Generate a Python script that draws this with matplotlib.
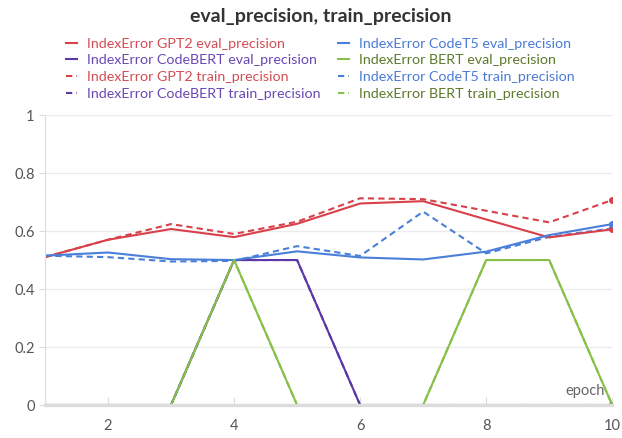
import matplotlib.pyplot as plt

# datos
epocas = [1, 2, 3, 4, 5, 6, 7, 8, 9, 10]

gpt2_eval = [0.51, 0.57, 0.607, 0.579, 0.625, 0.695, 0.703, 0.64, 0.578, 0.606]
codet5_eval = [0.515, 0.526, 0.503, 0.50, 0.53, 0.509, 0.502, 0.529, 0.586, 0.624]
codebert_eval = [0, 0, 0, 0.5, 0.5, 0, 0, 0, 0, 0]
bert_eval = [0, 0, 0, 0.5, 0, 0, 0, 0.5, 0.5, 0]

gpt2_train = [0.51, 0.57, 0.624, 0.59, 0.632, 0.713, 0.71, 0.67, 0.63, 0.707]
codet5_train = [0.515, 0.51, 0.495, 0.497, 0.548, 0.514, 0.667, 0.523, 0.58, 0.609]
codebert_train = [0, 0, 0, 0.5, 0.5, 0, 0, 0, 0, 0]
bert_train = [0, 0, 0, 0.5, 0, 0, 0, 0.5, 0.5, 0]

rojo, azul, morado, verde = '#d8404a', '#4a7fd9', '#5b37a8', '#88bf48'
texto_col = {rojo: '#d24c53', azul: '#4a7ad6', morado: '#6a48b3', verde: '#5c7a2c'}

plt.rcParams['font.family'] = ['Lato', 'DejaVu Sans']

fig = plt.figure(figsize=(6.22, 4.38), dpi=100)
ax = fig.add_axes([0.0723, 0.0753, 0.912, 0.662])

series = [
    ('IndexError GPT2 eval_precision', gpt2_eval, rojo, '-'),
    ('IndexError CodeBERT eval_precision', codebert_eval, morado, '-'),
    ('IndexError GPT2 train_precision', gpt2_train, rojo, '--'),
    ('IndexError CodeBERT train_precision', codebert_train, morado, '--'),
    ('IndexError CodeT5 eval_precision', codet5_eval, azul, '-'),
    ('IndexError BERT eval_precision', bert_eval, verde, '-'),
    ('IndexError CodeT5 train_precision', codet5_train, azul, '--'),
    ('IndexError BERT train_precision', bert_train, verde, '--'),
]

# dibujar primero los de train para que los eval queden encima
orden = [2, 3, 6, 7, 0, 1, 4, 5]
lineas = {}
for i in orden:
    nombre, vals, col, estilo = series[i]
    l, = ax.plot(epocas, vals, color=col, linestyle=estilo, linewidth=1.5,
                 dashes=(3, 2) if estilo == '--' else (None, None),
                 label=nombre, zorder=2)
    ax.plot(epocas[-1], vals[-1], 'o', color=col, markersize=4, zorder=3)
    lineas[i] = l

ax.set_xlim(1, 10)
ax.set_ylim(0, 1)
ax.set_xticks([2, 4, 6, 8, 10])
ax.set_yticks([0, 0.2, 0.4, 0.6, 0.8, 1])
ax.set_yticklabels(['0', '0.2', '0.4', '0.6', '0.8', '1'])
ax.grid(axis='y', color='#ececec', linewidth=1)
ax.set_axisbelow(True)
for s in ['top', 'right']:
    ax.spines[s].set_visible(False)
ax.spines['left'].set_color('#dcdcdc')
ax.spines['bottom'].set_color('#dcdcdc')
ax.spines['bottom'].set_linewidth(2.4)
ax.spines['bottom'].set_zorder(5)
ax.tick_params(axis='x', direction='in', length=6, color='#dcdcdc',
               labelcolor='#555555', labelsize=10.5, pad=10)
ax.tick_params(axis='y', length=4, color='#dcdcdc', labelcolor='#555555',
               labelsize=10.5)
ax.text(9.88, 0.025, 'epoch', ha='right', va='bottom', fontsize=10.5,
        color='#666666')

fig.suptitle('eval_precision, train_precision', x=0.515, y=0.982,
             fontsize=14, fontweight='bold', color='#333333')

handles = [lineas[i] for i in range(8)]
leg = fig.legend(handles=handles, loc='upper center', bbox_to_anchor=(0.515, 0.94),
                 ncol=2, frameon=False, fontsize=10.3, handlelength=0.8,
                 handletextpad=0.7, columnspacing=1.2, labelspacing=0.32,
                 borderpad=0.3)
for txt, h in zip(leg.get_texts(), handles):
    txt.set_color(texto_col[h.get_color()])

fig.savefig('out.png', dpi=100)
